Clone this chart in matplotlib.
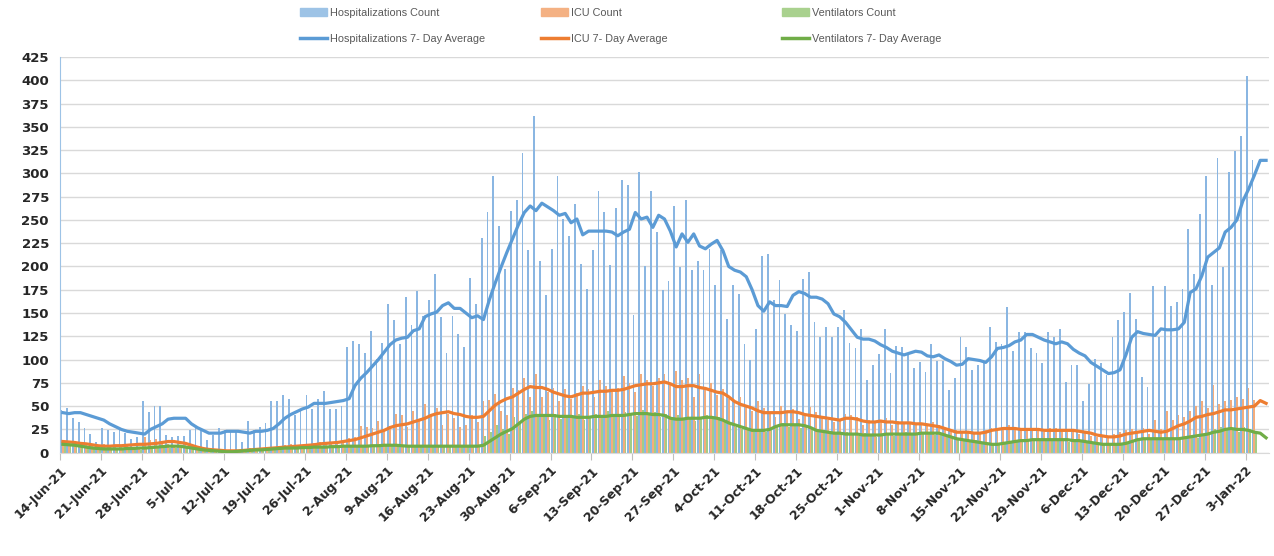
import matplotlib
matplotlib.use("Agg")
import matplotlib.pyplot as plt
import matplotlib.dates as mdates
from matplotlib.patches import Patch
from matplotlib.lines import Line2D
import numpy as np
import pandas as pd

start_date = "2021-06-14"

# daily counts (last two days have no bars)
hosp_count = [
    46, 48, 37, 33, 27, 20, 12, 27, 24, 22,
    24, 21, 15, 17, 55, 44, 50, 50, 19, 17,
    18, 18, 24, 26, 24, 14, 19, 27, 24, 24,
    24, 11, 34, 24, 28, 32, 55, 55, 62, 58,
    40, 45, 62, 47, 58, 66, 47, 47, 50, 113,
    120, 117, 107, 131, 101, 118, 160, 142, 117, 167,
    137, 174, 147, 164, 192, 146, 107, 147, 128, 114,
    188, 160, 231, 259, 297, 243, 197, 260, 271, 322,
    218, 362, 206, 169, 219, 297, 251, 233, 267, 203,
    176, 218, 281, 259, 202, 263, 293, 288, 148, 301,
    201, 281, 237, 175, 184, 265, 199, 271, 196, 206,
    196, 219, 180, 218, 144, 180, 170, 117, 100, 133,
    211, 213, 164, 185, 149, 137, 131, 187, 194, 140,
    124, 135, 124, 135, 153, 118, 112, 133, 78, 94,
    106, 133, 86, 115, 114, 106, 91, 97, 87, 117,
    99, 99, 67, 80, 124, 114, 89, 94, 99, 135,
    119, 117, 156, 109, 130, 130, 112, 107, 96, 130,
    124, 133, 76, 94, 94, 56, 74, 101, 96, 83,
    124, 142, 151, 171, 144, 81, 71, 179, 124, 179,
    158, 162, 176, 240, 192, 256, 297, 180, 317, 199,
    301, 324, 340, 405, 314, 0, 0,
]
icu_count = [
    13, 12, 10, 9, 8, 7, 5, 9, 8, 7,
    8, 7, 6, 5, 17, 14, 15, 13, 9, 8,
    8, 10, 9, 6, 4, 3, 2, 3, 2, 3,
    2, 1, 5, 3, 4, 5, 6, 7, 8, 9,
    6, 8, 9, 10, 11, 12, 9, 10, 13, 16,
    17, 29, 28, 26, 34, 24, 29, 42, 40, 28,
    45, 35, 52, 40, 48, 30, 42, 37, 28, 30,
    41, 33, 55, 57, 63, 45, 40, 70, 67, 80,
    60, 85, 60, 65, 70, 55, 68, 58, 64, 72,
    68, 60, 78, 72, 68, 70, 82, 75, 65, 85,
    78, 72, 80, 85, 75, 88, 78, 80, 60, 85,
    70, 75, 62, 68, 58, 55, 60, 50, 45, 55,
    48, 42, 38, 50, 43, 47, 36, 40, 49, 44,
    38, 35, 33, 36, 42, 40, 38, 30, 35, 33,
    35, 37, 30, 34, 33, 31, 32, 30, 29, 33,
    30, 26, 22, 24, 23, 21, 22, 20, 24, 26,
    27, 25, 30, 24, 27, 26, 24, 25, 22, 26,
    27, 24, 22, 25, 20, 21, 18, 17, 19, 16,
    20, 22, 24, 25, 23, 27, 20, 35, 25, 45,
    35, 40, 38, 45, 50, 55, 48, 73, 52, 55,
    57, 60, 58, 70, 57, 0, 0,
]
vent_count = [
    8, 8, 7, 6, 5, 4, 3, 5, 4, 3,
    4, 3, 4, 3, 6, 5, 6, 6, 5, 5,
    6, 5, 4, 3, 2, 2, 1, 1, 1, 2,
    1, 1, 2, 3, 2, 3, 4, 4, 5, 5,
    4, 5, 5, 6, 6, 6, 5, 6, 6, 7,
    7, 8, 7, 8, 7, 8, 9, 8, 7, 8,
    7, 8, 7, 6, 8, 7, 7, 6, 7, 8,
    7, 8, 18, 22, 30, 25, 20, 38, 33, 42,
    45, 40, 38, 35, 42, 36, 40, 38, 42, 35,
    38, 42, 40, 45, 38, 40, 44, 41, 39, 46,
    40, 44, 38, 42, 36, 40, 37, 36, 34, 38,
    40, 36, 38, 33, 30, 28, 25, 27, 22, 25,
    22, 28, 30, 32, 28, 30, 27, 30, 25, 22,
    24, 20, 21, 19, 22, 20, 18, 21, 19, 17,
    20, 21, 18, 20, 22, 19, 21, 20, 22, 19,
    20, 18, 15, 14, 13, 12, 14, 10, 9, 8,
    10, 11, 12, 13, 12, 14, 15, 13, 15, 14,
    13, 15, 12, 13, 11, 10, 9, 10, 8, 9,
    10, 8, 11, 13, 15, 14, 16, 15, 14, 16,
    14, 16, 17, 18, 16, 20, 22, 25, 28, 24,
    26, 22, 28, 25, 20, 0, 0,
]

# 7-day averages
hosp_avg = [
    43, 42, 43, 43, 41, 39, 37, 35, 31, 28,
    25, 23, 22, 21, 20, 25, 28, 31, 36, 37,
    37, 37, 31, 27, 24, 21, 21, 21, 23, 23,
    23, 22, 21, 23, 23, 24, 26, 31, 37, 41,
    44, 47, 49, 53, 53, 53, 54, 55, 56, 58,
    72, 80, 86, 93, 100, 108, 116, 121, 123, 124,
    131, 133, 146, 149, 151, 158, 161, 155, 155, 150,
    145, 147, 143, 164, 182, 199, 215, 230, 245, 258,
    265, 260, 268, 264, 260, 255, 257, 247, 251, 234,
    238, 238, 238, 238, 237, 233, 237, 240, 258, 251,
    253, 242, 255, 251, 238, 221, 235, 226, 235, 222,
    219, 224, 228, 217, 200, 196, 194, 189, 175, 158,
    152, 162, 158, 158, 157, 169, 173, 171, 167, 167,
    165, 160, 149, 146, 140, 132, 124, 122, 122, 120,
    116, 113, 109, 107, 105, 107, 109, 108, 104, 103,
    105, 101, 98, 94, 95, 101, 100, 99, 97, 103,
    112, 113, 115, 119, 121, 127, 127, 124, 121, 119,
    117, 119, 117, 111, 107, 104, 97, 93, 89, 85,
    86, 89, 105, 124, 130, 128, 127, 126, 133, 132,
    132, 133, 140, 172, 176, 190, 210, 215, 220, 237,
    242, 250, 270, 283, 298, 314, 314,
]
icu_avg = [
    12, 11.5, 11, 10, 9.5, 8.5, 7.5, 7, 7, 7.5,
    7.5, 8, 8.5, 9, 9, 9.5, 10, 11, 12, 12,
    11, 10, 8, 6, 4.5, 3.5, 3, 2.5, 2, 2,
    2, 2.5, 3, 3.5, 4, 4.5, 5, 5.5, 6, 6.5,
    7, 7.5, 8, 8.5, 9.5, 10, 10.5, 11, 12, 13,
    14, 16, 18, 20, 22, 24, 27, 29, 30, 31,
    33, 35, 37, 40, 42, 43, 44, 42, 41, 39,
    38, 38, 39, 45, 51, 55, 58, 60, 64, 68,
    71, 70, 70, 68, 65, 63, 61, 60, 62, 64,
    64, 65, 66, 66, 67, 67, 68, 70, 72, 73,
    74, 74, 75, 76, 74, 71, 71, 72, 72, 70,
    69, 67, 65, 64, 60, 55, 52, 50, 48, 45,
    43, 43, 43, 43, 44, 44, 43, 41, 40, 39,
    38, 37, 36, 35, 37, 37, 36, 34, 33, 33,
    34, 33, 33, 32, 32, 32, 31, 31, 30, 29,
    28, 26, 24, 22, 22, 22, 21, 21, 22, 24,
    25, 26, 26, 26, 25, 25, 25, 25, 24, 24,
    24, 24, 24, 24, 23, 22, 21, 19, 18, 17,
    17, 18, 20, 21, 22, 23, 24, 23, 22, 23,
    26, 29, 31, 34, 38, 39, 41, 42, 44, 46,
    46, 47, 48, 49, 50, 56, 53,
]
vent_avg = [
    9, 8.5, 8, 7, 6, 5, 4.5, 4, 4, 4,
    4, 4.5, 4.5, 5, 5, 5.5, 6, 6.5, 7, 7,
    7, 6, 5, 4, 3, 2.5, 2, 1.5, 1, 1,
    1.5, 2, 2.5, 3, 3, 3.5, 4, 4.5, 5, 5,
    5, 5.5, 5.5, 6, 6, 6, 6.5, 6.5, 7, 7,
    7, 7, 7, 7.5, 7.5, 8, 8, 8, 7.5, 7,
    7, 7, 7, 7, 7, 7, 7, 7, 7, 7,
    7, 7, 8, 12, 16, 20, 23, 26, 31, 36,
    39, 40, 40, 40, 40, 39, 39, 39, 38, 38,
    38, 39, 39, 39, 40, 40, 40, 41, 42, 42,
    42, 41, 41, 40, 37, 36, 36, 37, 37, 37,
    38, 38, 37, 35, 32, 30, 28, 26, 24, 24,
    24, 25, 28, 30, 30, 30, 30, 29, 27, 24,
    23, 22, 21, 21, 20, 20, 20, 19, 19, 19,
    19, 20, 20, 20, 20, 20, 20, 21, 21, 21,
    21, 19, 17, 15, 14, 13, 12, 11, 10, 9,
    9, 10, 11, 12, 13, 13, 14, 14, 14, 14,
    14, 14, 14, 13, 13, 12, 11, 10, 9, 9,
    9, 9, 10, 12, 14, 15, 15, 15, 15, 15,
    15, 15, 16, 17, 18, 19, 20, 22, 23, 25,
    26, 25, 25, 24, 22, 21, 16,
]

dates = pd.date_range(start_date, periods=len(hosp_avg), freq="D")
x = mdates.date2num(dates.to_pydatetime())

c_hosp_bar, c_hosp_line = "#8ab6e2", "#5b9bd5"
c_icu_bar, c_icu_line = "#f4ad7c", "#ed7d31"
c_vent_bar, c_vent_line = "#a2cd86", "#70ad47"

fig = plt.figure(figsize=(12.74, 5.56), dpi=100)
ax = fig.add_axes([60 / 1274, 1 - 452.7 / 556, 1209 / 1274, (452.7 - 57) / 556])

w = 0.31
ax.bar(x + 0.5 - w, hosp_count, width=w, color=c_hosp_bar, linewidth=0, zorder=2)
ax.bar(x + 0.5, icu_count, width=w, color=c_icu_bar, linewidth=0, zorder=2)
ax.bar(x + 0.5 + w, vent_count, width=w, color=c_vent_bar, linewidth=0, zorder=2)

ax.plot(x + 0.5, hosp_avg, color=c_hosp_line, lw=2.3, zorder=3, solid_joinstyle="round")
ax.plot(x + 0.5, icu_avg, color=c_icu_line, lw=2.3, zorder=3, solid_joinstyle="round")
ax.plot(x + 0.5, vent_avg, color=c_vent_line, lw=2.3, zorder=3, solid_joinstyle="round")

ax.set_xlim(x[0], x[-1] + 1)
ax.set_ylim(0, 425)
ax.set_yticks(np.arange(0, 426, 25))
ax.grid(axis="y", color="#d9d9d9", lw=1)
ax.set_axisbelow(True)

tick_dates = dates[::7]
ax.set_xticks(x[::7])
ax.set_xticklabels([f"{d.day}-{d:%b-%y}" for d in tick_dates],
                   rotation=45, ha="right", rotation_mode="anchor")

for s in ["top", "right"]:
    ax.spines[s].set_visible(False)
ax.spines["left"].set_color("#9dc3e6")
ax.spines["bottom"].set_color("#d9d9d9")
ax.tick_params(axis="y", length=0, pad=8, labelsize=9.5, labelcolor="#262626")
ax.tick_params(axis="x", length=5, color="#bfbfbf", pad=3, labelsize=9, labelcolor="#262626")
for lab in ax.get_yticklabels() + ax.get_xticklabels():
    lab.set_fontweight("bold")

legend_cols = [
    (300, Patch(color="#9dc3e6"), "Hospitalizations Count",
     Line2D([], [], color=c_hosp_line, lw=2.5), "Hospitalizations 7- Day Average"),
    (541, Patch(color="#f4b183"), "ICU Count",
     Line2D([], [], color=c_icu_line, lw=2.5), "ICU 7- Day Average"),
    (782, Patch(color="#a9d18e"), "Ventilators Count",
     Line2D([], [], color=c_vent_line, lw=2.5), "Ventilators 7- Day Average"),
]
for xpos, h1, l1, h2, l2 in legend_cols:
    fig.legend([h1, h2], [l1, l2], loc="upper left", bbox_to_anchor=(xpos / 1274, 1 - 8 / 556),
               frameon=False, borderpad=0, borderaxespad=0, handlelength=2.5,
               handletextpad=0.25, labelspacing=1.5,
               prop={"family": "Liberation Sans", "size": 7.8}, labelcolor="#595959")

fig.savefig("out.png", dpi=100)
